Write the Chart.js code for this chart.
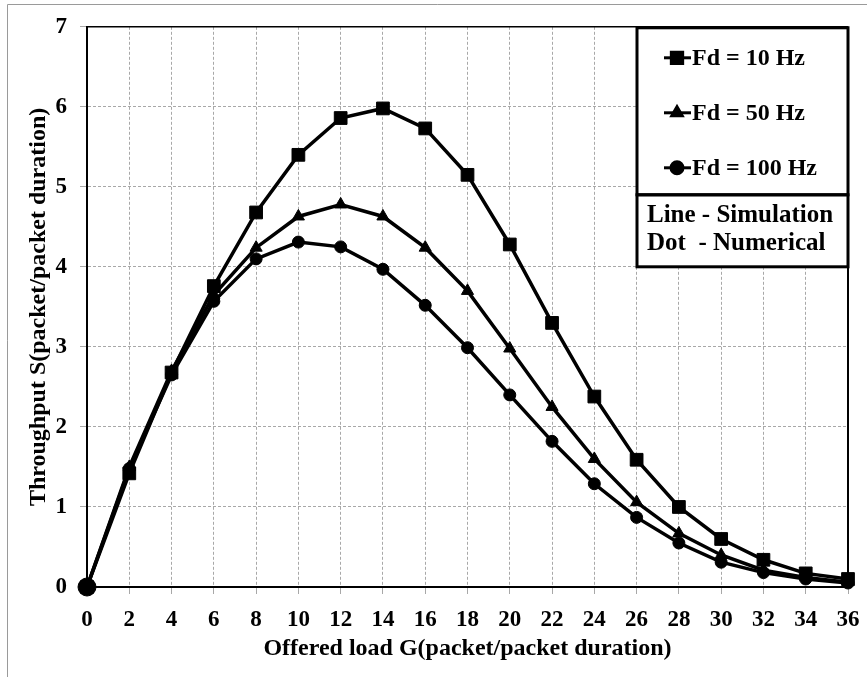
<!DOCTYPE html>
<html>
<head>
<meta charset="utf-8">
<title>Throughput vs offered load</title>
<script src="https://cdn.jsdelivr.net/npm/chart.js@4"></script>
<style>
  html, body { margin: 0; padding: 0; background: #fff; }
</style>
</head>
<body>
<canvas id="chart" width="867" height="677"></canvas>
<script>
// offered load G (x axis)
const loads = [0, 2, 4, 6, 8, 10, 12, 14, 16, 18, 20, 22, 24, 26, 28, 30, 32, 34, 36];

// throughput S for each Doppler frequency
const fd10 = [0, 1.42, 2.68, 3.76, 4.68, 5.40, 5.86, 5.98, 5.73, 5.15, 4.28, 3.30, 2.38, 1.59, 1.00, 0.60, 0.34, 0.17, 0.10];
const fd50 = [0, 1.50, 2.70, 3.65, 4.24, 4.63, 4.78, 4.63, 4.24, 3.70, 2.98, 2.25, 1.60, 1.06, 0.67, 0.40, 0.21, 0.12, 0.06];
const fd100 = [0, 1.48, 2.65, 3.57, 4.10, 4.31, 4.25, 3.97, 3.52, 2.99, 2.40, 1.82, 1.29, 0.87, 0.55, 0.31, 0.18, 0.10, 0.05];

const seriesNames = ['Fd = 10 Hz', 'Fd = 50 Hz', 'Fd = 100 Hz'];
const noteLines = ['Line - Simulation', 'Dot  - Numerical'];

const FONT = '"Liberation Serif", "Times New Roman", serif';
const GRID = '#a8a8a8';

function pts(values) {
  return values.map((v, i) => ({ x: loads[i], y: v }));
}

function series(label, values, style, radius, order) {
  return {
    label: label,
    data: pts(values),
    borderColor: '#000',
    backgroundColor: '#000',
    borderWidth: 3.5,
    pointStyle: style,
    pointRadius: radius,
    pointHoverRadius: radius,
    pointBorderWidth: 1,
    pointBorderColor: '#000',
    pointBackgroundColor: '#000',
    tension: 0,
    clip: false,
    order: order
  };
}

// white page + thin grey frame on the top and left edges
const framePlugin = {
  id: 'frame',
  beforeDraw(chart) {
    const c = chart.ctx;
    c.save();
    c.fillStyle = '#fff';
    c.fillRect(0, 0, chart.width, chart.height);
    c.strokeStyle = '#9a9a9a';
    c.lineWidth = 1;
    c.beginPath();
    c.moveTo(7.5, chart.height);
    c.lineTo(7.5, 4.5);
    c.lineTo(chart.width, 4.5);
    c.stroke();
    c.restore();
  },
  beforeDatasetsDraw(chart) {
    const a = chart.chartArea;
    const c = chart.ctx;
    c.save();
    c.strokeStyle = '#000';
    c.lineWidth = 1.5;
    c.beginPath();
    c.moveTo(a.left, a.top);
    c.lineTo(a.right, a.top);
    c.stroke();
    c.lineWidth = 2;
    c.beginPath();
    c.moveTo(a.right, a.top);
    c.lineTo(a.right, a.bottom);
    c.stroke();
    c.restore();
  }
};

// boxed legend in the top right corner, plus the line/dot note
const legendPlugin = {
  id: 'boxLegend',
  afterDraw(chart) {
    const a = chart.chartArea;
    const c = chart.ctx;
    const w = 211;
    const x0 = a.right - w;
    const y0 = a.top + 1;
    const h1 = 167, h2 = 72;

    c.save();
    c.fillStyle = '#fff';
    c.fillRect(x0, y0, w, h1 + h2);
    c.strokeStyle = '#000';
    c.lineWidth = 3;
    c.strokeRect(x0, y0, w, h1);
    c.strokeRect(x0, y0 + h1, w, h2);

    c.font = 'bold 24px ' + FONT;
    c.fillStyle = '#000';
    c.textBaseline = 'middle';
    c.textAlign = 'left';

    const rows = [30, 85, 140];
    chart.data.datasets.forEach((ds, i) => {
      const y = y0 + rows[i];
      c.lineWidth = 3;
      c.beginPath();
      c.moveTo(x0 + 27, y);
      c.lineTo(x0 + 54, y);
      c.stroke();
      Chart.helpers.drawPoint(c, {
        pointStyle: ds.pointStyle,
        radius: ds.pointStyle === 'rect' ? 8 : 6,
        rotation: 0,
        borderWidth: 1
      }, x0 + 40, y);
      c.fillStyle = '#000';
      c.fillText(seriesNames[i], x0 + 55, y + 1);
    });

    c.font = 'bold 25px ' + FONT;
    c.fillText(noteLines[0], x0 + 10, y0 + h1 + 21);
    c.fillText(noteLines[1], x0 + 10, y0 + h1 + 49);
    c.restore();
  }
};

const ctx = document.getElementById('chart').getContext('2d');
const chart = new Chart(ctx, {
  type: 'line',
  data: {
    datasets: [
      series(seriesNames[0], fd10, 'rect', 9, 2),
      series(seriesNames[1], fd50, 'triangle', 7, 1),
      series(seriesNames[2], fd100, 'circle', c => (c.dataIndex === 0 ? 9 : 6), 0)
    ]
  },
  options: {
    responsive: false,
    animation: false,
    layout: { padding: { left: 20, right: 19, top: 22, bottom: 10 } },
    plugins: {
      legend: { display: false },
      tooltip: { enabled: false }
    },
    scales: {
      x: {
        type: 'linear',
        min: 0,
        max: 36,
        afterFit: s => { s.height = 80; s.paddingLeft = 0; s.paddingRight = 0; },
        ticks: {
          stepSize: 2,
          color: '#000',
          padding: 12,
          maxRotation: 0,
          autoSkip: false,
          font: { family: FONT, size: 23, weight: 'bold' }
        },
        grid: { color: GRID, tickColor: GRID, tickLength: 7, lineWidth: 1 },
        border: { color: '#000', width: 2, dash: [3, 2] },
        title: {
          display: true,
          text: 'Offered load G(packet/packet duration)',
          color: '#000',
          font: { family: FONT, size: 24, weight: 'bold' }
        }
      },
      y: {
        min: 0,
        max: 7,
        afterFit: s => { s.width = 67; },
        ticks: {
          stepSize: 1,
          color: '#000',
          padding: 13,
          font: { family: FONT, size: 23, weight: 'bold' }
        },
        grid: { color: GRID, tickColor: GRID, tickLength: 7, lineWidth: 1 },
        border: { color: '#000', width: 2, dash: [3, 2] },
        title: {
          display: true,
          text: 'Throughput S(packet/packet duration)',
          color: '#000',
          font: { family: FONT, size: 24, weight: 'bold' }
        }
      }
    }
  },
  plugins: [framePlugin, legendPlugin]
});
</script>
</body>
</html>
